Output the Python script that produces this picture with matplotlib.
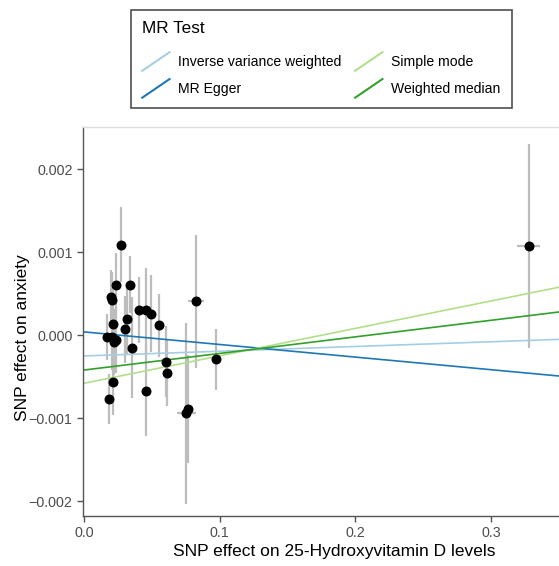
import numpy as np
import matplotlib.pyplot as plt
from matplotlib.lines import Line2D
from matplotlib.legend_handler import HandlerLine2D

plt.rcParams['font.family'] = ['Liberation Sans', 'DejaVu Sans']

# SNP effects on exposure (x) and outcome (y) with standard errors
bx = [0.0271, 0.0236, 0.0342, 0.0202, 0.0206, 0.0828, 0.0406, 0.0455, 0.0496,
      0.0317, 0.0214, 0.0553, 0.0302, 0.0167, 0.0209, 0.0234, 0.0224, 0.0356,
      0.0602, 0.0976, 0.0614, 0.0214, 0.0455, 0.0187, 0.0752, 0.0769, 0.3277]
by = [0.00109, 0.00061, 0.00061, 0.00046, 0.00043, 0.00041, 0.00030, 0.00030,
      0.00026, 0.00019, 0.00014, 0.00012, 0.00007, -0.00002, -0.00002, -0.00006,
      -0.00008, -0.00015, -0.00032, -0.00029, -0.00045, -0.00056, -0.00067,
      -0.00077, -0.00094, -0.00089, 0.00107]
se_x = [0.002, 0.002, 0.002, 0.002, 0.002, 0.006, 0.002, 0.002, 0.002,
        0.002, 0.002, 0.002, 0.002, 0.002, 0.002, 0.002, 0.002, 0.002,
        0.002, 0.002, 0.002, 0.002, 0.002, 0.002, 0.007, 0.003, 0.0083]
se_y = [0.00045, 0.00038, 0.00034, 0.00033, 0.00033, 0.00080, 0.00040, 0.00051,
        0.00046, 0.00042, 0.00040, 0.00038, 0.00040, 0.00028, 0.00040, 0.00040,
        0.00040, 0.00061, 0.00043, 0.00037, 0.00040, 0.00040, 0.00055, 0.00030,
        0.00109, 0.00065, 0.00123]

# MR method fits: intercept and slope
methods = ["Inverse variance weighted", "MR Egger", "Simple mode", "Weighted median"]
intercepts = [-0.00025, 0.00004, -0.00058, -0.00042]
slopes = [0.00057, -0.00152, 0.00331, 0.00200]
colors = ["#A6CEE3", "#1F78B4", "#B2DF8A", "#33A02C"]


class DiagonalHandler(HandlerLine2D):
    def create_artists(self, legend, orig_handle, xdescent, ydescent,
                       width, height, fontsize, trans):
        line = Line2D([0, width], [-height * 0.45, height * 1.45],
                      color=orig_handle.get_color(), lw=orig_handle.get_linewidth())
        line.set_transform(trans)
        return [line]


fig = plt.figure(figsize=(5.59, 5.66), dpi=100)
ax = fig.add_axes([0.1485, 0.0883, 0.8515, 0.6873])

ax.errorbar(bx, by, xerr=se_x, yerr=se_y, fmt='none', ecolor='#BDBDBD',
            elinewidth=1.6, capsize=0, zorder=1)
ax.scatter(bx, by, s=38, color='black', zorder=3)

xs = np.array([0.0, 0.36])
handles = []
for name, a, b, c in zip(methods, intercepts, slopes, colors):
    ax.plot(xs, a + b * xs, color=c, lw=1.2, zorder=2)
    handles.append(Line2D([], [], color=c, lw=1.5, label=name))

ax.set_xlim(-0.0007, 0.350)
ax.set_ylim(-0.00218, 0.00251)
ax.set_xticks([0.0, 0.1, 0.2, 0.3])
ax.set_xticklabels(["0.0", "0.1", "0.2", "0.3"])
ax.set_yticks([-0.002, -0.001, 0.0, 0.001, 0.002])
ax.set_yticklabels(["\u22120.002", "\u22120.001", "0.000", "0.001", "0.002"])

for s in ['left', 'bottom']:
    ax.spines[s].set_color('#555555')
    ax.spines[s].set_linewidth(1.0)
ax.spines['top'].set_color('#DDDDDD')
ax.spines['top'].set_linewidth(1.0)
ax.spines['right'].set_visible(False)
ax.tick_params(colors='#555555', labelcolor='#4D4D4D', labelsize=10.3,
               length=4, width=1.0)

ax.set_xlabel("SNP effect on 25-Hydroxyvitamin D levels", fontsize=12.5)
ax.xaxis.set_label_coords((334 - 83) / 476, -(551 - 516) / 389)
ax.xaxis.label.set_verticalalignment('center')
ax.set_ylabel("SNP effect on anxiety", fontsize=12.5)
ax.yaxis.set_label_coords(-(83 - 30) / 476, (516 - 338) / 389)

leg = fig.legend(handles=handles, ncol=2, title="MR Test", loc='upper left',
                 bbox_to_anchor=(131 / 559, 1 - 10 / 566), fontsize=10.1,
                 title_fontsize=12.3, frameon=True, fancybox=False,
                 edgecolor='#222222', handler_map={Line2D: DiagonalHandler()},
                 handlelength=1.95, handletextpad=0.63, columnspacing=0.95,
                 alignment='left', borderpad=0.8, labelspacing=0.92,
                 borderaxespad=0)
leg.get_frame().set_linewidth(1.2)
# extra room between the legend title and its entries
leg._legend_box.sep = 0.92 * 10.1 + 4.5

fig.savefig("out.png", dpi=100)
